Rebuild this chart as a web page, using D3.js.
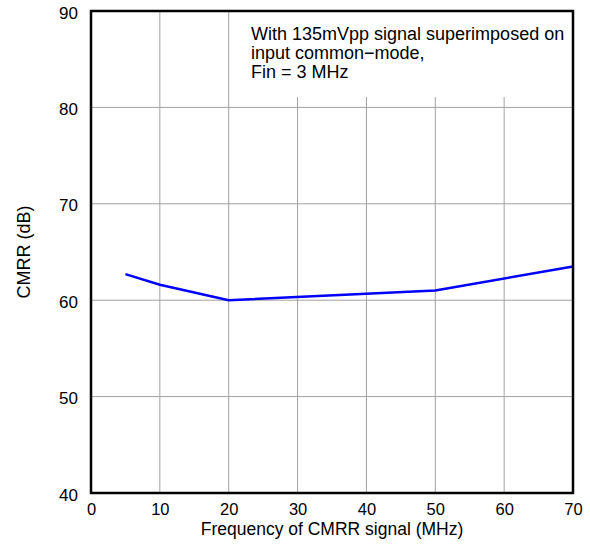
<!DOCTYPE html>
<html><head><meta charset="utf-8">
<script src="https://cdn.jsdelivr.net/npm/d3@7"></script>
<style>body{margin:0;background:#fff}svg{display:block;font-family:"Liberation Sans",Arial,sans-serif}</style>
</head><body><svg id="c" width="590" height="549"></svg>
<script>
const freq = [5, 10, 20, 50, 70];
const cmrr = [62.7, 61.6, 60.0, 61.0, 63.5];
const xTicks = [0, 10, 20, 30, 40, 50, 60, 70];
const yTicks = [40, 50, 60, 70, 80, 90];
const note = ["With 135mVpp signal superimposed on", "input common\u2212mode,", "Fin = 3 MHz"];

const L = 91, R = 573, T = 11, B = 493;
const svg = d3.select("#c");
const x = d3.scaleLinear().domain([0, 70]).range([L, R]);
const y = d3.scaleLinear().domain([40, 90]).range([B, T]);

// grid
svg.append("g").selectAll("line").data(yTicks.slice(1, -1)).join("line")
  .attr("x1", L).attr("x2", R).attr("y1", d => y(d)).attr("y2", d => y(d))
  .attr("stroke", "#a0a0a0").attr("stroke-width", 1);
svg.append("g").selectAll("line").data(xTicks.slice(1, -1)).join("line")
  .attr("x1", d => x(d)).attr("x2", d => x(d)).attr("y1", T).attr("y2", B)
  .attr("stroke", "#a0a0a0").attr("stroke-width", 1);

// note box (white background hides grid)
svg.append("rect").attr("x", 233).attr("y", T).attr("width", R - 233).attr("height", 86).attr("fill", "#fff");
svg.append("g").selectAll("text").data(note).join("text")
  .attr("x", 251).attr("y", (d, i) => 40 + i * 19)
  .attr("font-size", 18).attr("fill", "#000").text(d => d);

// line
svg.append("path").datum(freq.map((f, i) => [f, cmrr[i]]))
  .attr("fill", "none").attr("stroke", "#0000ff").attr("stroke-width", 2.5)
  .attr("stroke-linejoin", "round")
  .attr("d", d3.line().x(d => x(d[0])).y(d => y(d[1])));

// frame
svg.append("rect").attr("x", L).attr("y", T).attr("width", R - L).attr("height", B - T)
  .attr("fill", "none").attr("stroke", "#000").attr("stroke-width", 2.5);

// axes labels
const xa = svg.append("g").attr("transform", `translate(0,${B})`)
  .call(d3.axisBottom(x).tickValues(xTicks).tickSize(0).tickPadding(10).tickFormat(d3.format("d")));
xa.select(".domain").remove();
xa.selectAll("text").attr("font-size", 16.5).attr("font-family", "Liberation Sans, Arial, sans-serif").attr("fill", "#000")
  .attr("dy", null).attr("y", 21.5);
const ya = svg.append("g").attr("transform", `translate(${L},0)`)
  .call(d3.axisLeft(y).tickValues(yTicks).tickSize(0).tickPadding(13).tickFormat(d3.format("d")));
ya.select(".domain").remove();
ya.selectAll("text").attr("font-size", 17).attr("font-family", "Liberation Sans, Arial, sans-serif").attr("fill", "#000")
  .attr("dy", null).attr("y", 7);

svg.append("text").attr("x", 332).attr("y", 535).attr("text-anchor", "middle")
  .attr("font-size", 17.5).text("Frequency of CMRR signal (MHz)");
svg.append("text").attr("transform", "translate(30,252) rotate(-90)").attr("text-anchor", "middle")
  .attr("font-size", 18).text("CMRR (dB)");
</script></body></html>
